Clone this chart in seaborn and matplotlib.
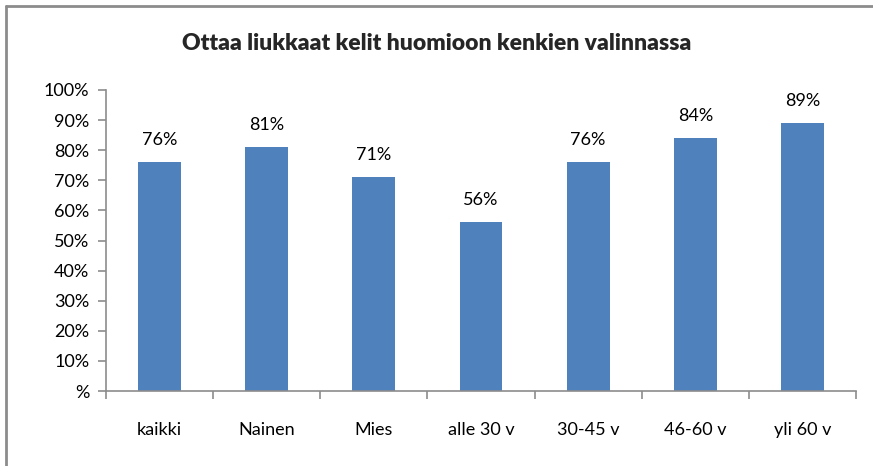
import matplotlib
matplotlib.use("Agg")
import matplotlib.pyplot as plt
import seaborn as sns
import pandas as pd
import numpy as np
from matplotlib.lines import Line2D

categories = ["kaikki", "Nainen", "Mies", "alle 30 v", "30-45 v", "46-60 v", "yli 60 v"]
values = [76, 81, 71, 56, 76, 84, 89]
yticks = [0, 10, 20, 30, 40, 50, 60, 70, 80, 90, 100]
ytick_labels = ["%"] + [f"{v}%" for v in yticks[1:]]
title = "Ottaa liukkaat kelit huomioon kenkien valinnassa"

sns.set_theme(style="white")
plt.rcParams['font.family'] = ['Lato', 'DejaVu Sans']

df = pd.DataFrame({"cat": categories, "val": values})

fig = plt.figure(figsize=(8.73, 4.66), dpi=100)
ax = fig.add_axes([106/873, 1 - 391/466, 750/873, 301/466])
sns.barplot(data=df, x="cat", y="val", color="#4F81BD", width=0.4,
            saturation=1, ax=ax, edgecolor="none")

fs = 13
ax.set_ylim(0, 100)
ax.set_xlim(-0.5, len(categories) - 0.5)
ax.set_yticks(yticks)
ax.set_yticklabels(ytick_labels, fontsize=fs, color="black")
ax.set_xticks(range(len(categories)))
ax.set_xticklabels(categories, fontsize=fs, color="black")
ax.set_xlabel("")
ax.set_ylabel("")

for s in ["top", "right"]:
    ax.spines[s].set_visible(False)
for s in ["left", "bottom"]:
    ax.spines[s].set_color("#8C8C8C")
    ax.spines[s].set_linewidth(1.2)

ax.tick_params(axis="y", left=True, length=6, width=1.2, color="#8C8C8C", pad=6)
ax.tick_params(axis="x", bottom=False, pad=16)
ax.set_xticks(np.arange(-0.5, len(categories), 1), minor=True)
ax.tick_params(axis="x", which="minor", bottom=True, length=6, width=1.2, color="#8C8C8C")

for i, v in enumerate(values):
    ax.text(i, v + 4.8, f"{v}%", ha="center", va="bottom", fontsize=fs, color="black")

fig.text(0.5, 1 - 44/466, title, ha="center", va="center", fontsize=16.5, fontweight="heavy")

fig.add_artist(Line2D([6/873, 6/873], [0, 1 - 6/466], transform=fig.transFigure, color="#8C8C8C", lw=2))
fig.add_artist(Line2D([6/873, 1], [1 - 6/466, 1 - 6/466], transform=fig.transFigure, color="#8C8C8C", lw=2))

fig.savefig("out.png", dpi=100)
